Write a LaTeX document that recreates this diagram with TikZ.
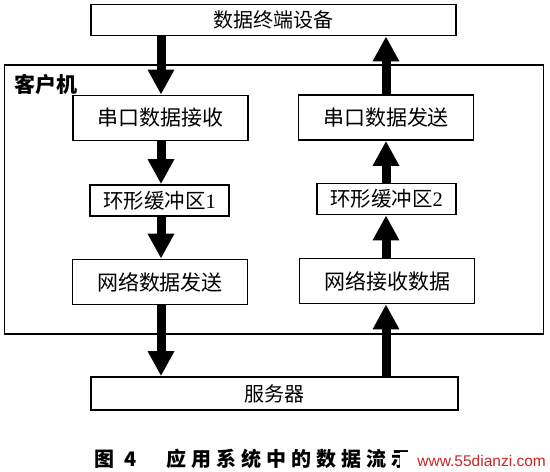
\documentclass[tikz,border=0pt]{standalone}
\usepackage{fontspec}
\setmainfont{Liberation Serif}
\newfontfamily\cjk{Noto Sans CJK SC}
\newfontfamily\wmfont{Liberation Sans}
\usetikzlibrary{arrows.meta}
\definecolor{wmred}{RGB}{205,35,35}
\newcommand\cs{\kern5pt}
\begin{document}
\begin{tikzpicture}[x=1pt,y=-1pt,
  box/.style={draw, line width=1.8pt, inner sep=0pt, font=\cjk\fontsize{21}{21}\selectfont},
  wide/.style={box, minimum height=31pt, font=\cjk\fontsize{20}{20}\selectfont},
  tallbox/.style={box, minimum width=175pt, minimum height=45pt},
  ringbox/.style={box, minimum width=139pt, minimum height=31pt, font=\cjk\fontsize{20.5}{20.5}\selectfont},
  flow/.style={line width=9pt, -{Triangle[width=25pt,length=25pt]}}]
\useasboundingbox (0,0) rectangle (550,472);
\fill[white] (0,0) rectangle (550,472);
\coordinate (colL) at (161,0);
\coordinate (colR) at (386,0);
% outer client frame
\node[draw, line width=1.8pt, inner sep=0pt, minimum width=539pt, minimum height=269pt] (client) at (274,199.5) {};
\node[anchor=west, inner sep=0pt, font=\cjk\bfseries\fontsize{21}{21}\selectfont] (clientlabel) at (14,84) {客户机};
% boxes
\node[wide, minimum width=365pt] (term) at (273.5,20) {数据终端设备};
\node[tallbox] (sr) at (160.5,118) {串口数据接收};
\node[tallbox] (ss) at (386,117.5) {串口数据发送};
\node[ringbox] (r1) at (159.5,200.5) {环形缓冲区{\rmfamily 1}};
\node[ringbox] (r2) at (386.5,199) {环形缓冲区{\rmfamily 2}};
\node[tallbox] (ns) at (160,282) {网络数据发送};
\node[tallbox] (nr) at (387,281) {网络接收数据};
\node[wide, minimum width=367pt, minimum height=33pt] (sv) at (274.5,393.5) {服务器};
% left column (downwards)
\draw[flow] (term.south -| colL) -- (sr.north -| colL);
\draw[flow] (sr.south -| colL) -- (r1.north -| colL);
\draw[flow] (r1.south -| colL) -- (ns.north -| colL);
\draw[flow] (ns.south -| colL) -- (sv.north -| colL);
% right column (upwards)
\draw[flow] (sv.north -| colR) -- (nr.south -| colR);
\draw[flow] (nr.north -| colR) -- (r2.south -| colR);
\draw[flow] (r2.north -| colR) -- (ss.south -| colR);
\draw[flow] (ss.north -| colR) -- (term.south -| colR);
% caption
\node[anchor=west, inner sep=0pt, font=\cjk\bfseries\fontsize{20}{20}\selectfont] (caption) at (94,459)
  {图\kern10pt 4\kern30pt 应\cs 用\cs 系\cs 统\cs 中\cs 的\cs 数\cs 据\cs 流\cs 示};
\fill[white] (400,452) rectangle (550,472);
\fill[white] (408,440) rectangle (550,472);
\node[anchor=east, inner sep=0pt, text=wmred, font=\wmfont\fontsize{15.5}{15.5}\selectfont] (watermark) at (546,461) {www.55dianzi.com};
\end{tikzpicture}
\end{document}
